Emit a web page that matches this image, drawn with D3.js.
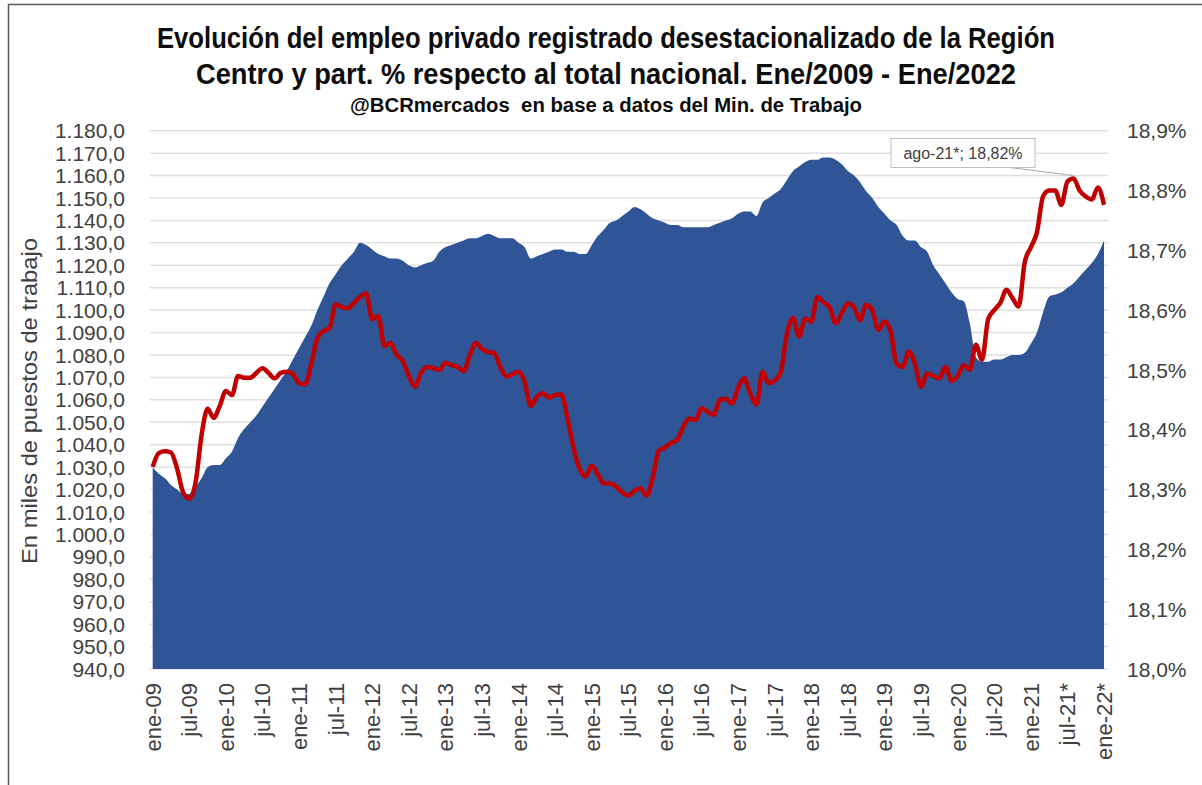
<!DOCTYPE html>
<html>
<head>
<meta charset="utf-8">
<script src="https://cdn.jsdelivr.net/npm/d3@7"></script>
<style>
  body { margin: 0; background: #fff; }
  svg { display: block; }
  .tick-l, .tick-r, .tick-x { font-family: "Liberation Sans", Arial, sans-serif; font-size: 21px; fill: #404040; }
  .title { font-family: "Liberation Sans Narrow", "Arial Narrow", "Liberation Sans", sans-serif; font-weight: bold; fill: #0d0d0d; }
</style>
</head>
<body>
<div id="chart"></div>
<script>
// Empleo privado registrado desestacionalizado, Región Centro (miles de puestos), ene-09 .. ene-22
const empleo = [
  1030, 1027, 1025, 1022, 1020, 1018, 1018, 1021, 1025, 1030, 1031, 1031,
  1034, 1037, 1043, 1047, 1050, 1053, 1057, 1061, 1065, 1069, 1073, 1078,
  1083, 1088, 1093, 1100, 1106, 1112, 1116, 1120, 1123, 1126, 1130, 1129,
  1127, 1125, 1124, 1123, 1123, 1122, 1120, 1119, 1120, 1121, 1122, 1126,
  1128, 1129, 1130, 1131, 1132, 1132, 1133, 1134, 1133, 1132, 1132, 1132,
  1130, 1128, 1123, 1124, 1125, 1126, 1127, 1127, 1126, 1126, 1125, 1125,
  1129, 1133, 1136, 1139, 1140, 1142, 1144, 1146, 1145, 1143, 1141, 1140,
  1139, 1138, 1138, 1137, 1137, 1137, 1137, 1137, 1138, 1139, 1140, 1141,
  1143, 1144, 1144, 1142, 1148, 1150, 1152, 1154, 1158, 1162, 1164, 1166,
  1167, 1167, 1168, 1168, 1167, 1165, 1162, 1160, 1157, 1153, 1150, 1146,
  1143, 1140, 1138, 1133, 1131, 1131, 1128, 1126, 1120, 1116, 1112, 1108,
  1105, 1104, 1094, 1079, 1077, 1077, 1078, 1078, 1079, 1080, 1080, 1081,
  1085, 1090, 1099, 1106, 1107, 1108, 1110, 1112, 1115, 1118, 1121, 1125,
  1131
];

// Participación % respecto al total nacional
const participacion = [
  18.338, 18.361, 18.364, 18.362, 18.335, 18.295, 18.285, 18.310, 18.390, 18.435, 18.420, 18.440,
  18.465, 18.458, 18.490, 18.487, 18.487, 18.495, 18.503, 18.495, 18.486, 18.495, 18.497, 18.493,
  18.478, 18.476, 18.510, 18.553, 18.565, 18.570, 18.610, 18.605, 18.603, 18.612, 18.622, 18.628,
  18.585, 18.590, 18.540, 18.545, 18.525, 18.515, 18.490, 18.472, 18.495, 18.505, 18.503, 18.500,
  18.512, 18.508, 18.505, 18.498, 18.525, 18.545, 18.535, 18.530, 18.528, 18.505, 18.489, 18.493,
  18.497, 18.480, 18.440, 18.455, 18.461, 18.454, 18.458, 18.459, 18.420, 18.370, 18.335, 18.322,
  18.340, 18.325, 18.310, 18.310, 18.305, 18.295, 18.290, 18.298, 18.302, 18.290, 18.320, 18.365,
  18.370, 18.378, 18.383, 18.405, 18.419, 18.416, 18.436, 18.430, 18.425, 18.450, 18.452, 18.444,
  18.470, 18.486, 18.460, 18.442, 18.497, 18.478, 18.482, 18.497, 18.560, 18.587, 18.556, 18.586,
  18.581, 18.622, 18.613, 18.605, 18.578, 18.595, 18.611, 18.605, 18.583, 18.609, 18.600, 18.567,
  18.581, 18.565, 18.510, 18.505, 18.531, 18.510, 18.472, 18.494, 18.490, 18.486, 18.505, 18.482,
  18.490, 18.508, 18.500, 18.542, 18.517, 18.585, 18.600, 18.612, 18.634, 18.620, 18.606, 18.680,
  18.705, 18.730, 18.790, 18.800, 18.800, 18.776, 18.815, 18.820, 18.800, 18.790, 18.785, 18.805,
  18.776
];

const tickLabels = [
  'ene-09', 'jul-09', 'ene-10', 'jul-10', 'ene-11', 'jul-11', 'ene-12', 'jul-12', 'ene-13',
  'jul-13', 'ene-14', 'jul-14', 'ene-15', 'jul-15', 'ene-16', 'jul-16', 'ene-17', 'jul-17',
  'ene-18', 'jul-18', 'ene-19', 'jul-19', 'ene-20', 'jul-20', 'ene-21', 'jul-21*', 'ene-22*'
];

const titleLines = [
  'Evolución del empleo privado registrado desestacionalizado de la Región',
  'Centro y part. % respecto al total nacional. Ene/2009 - Ene/2022'
];
const subtitle = '@BCRmercados  en base a datos del Min. de Trabajo';
const yTitle = 'En miles de puestos de trabajo';
const callout = { index: 151, label: 'ago-21*; 18,82%' };

const width = 1202;
const height = 785;
const plot = { left: 152.7, right: 1104, top: 130.7, bottom: 669 };

const locale = d3.formatLocale({ decimal: ',', thousands: '.', grouping: [3], currency: ['$', ''] });
const fmtLeft = locale.format(',.1f');
const fmtRight = locale.format('.1f');

const svg = d3.select('#chart')
  .append('svg')
  .attr('width', width)
  .attr('height', height);

svg.append('rect')
  .attr('width', width).attr('height', height)
  .attr('fill', '#fff');

// outer frame
svg.append('rect')
  .attr('x', 8.5).attr('y', 4.5)
  .attr('width', width).attr('height', height)
  .attr('fill', 'none')
  .attr('stroke', '#595959')
  .attr('stroke-width', 1.5);

const x = d3.scaleLinear()
  .domain([0, empleo.length - 1])
  .range([plot.left, plot.right]);

const yLeft = d3.scaleLinear()
  .domain([940, 1180])
  .range([plot.bottom, plot.top]);

const yRight = d3.scaleLinear()
  .domain([18.0, 18.9])
  .range([plot.bottom, plot.top]);

// gridlines
svg.append('g')
  .selectAll('line')
  .data(d3.range(940, 1181, 10))
  .enter().append('line')
  .attr('x1', plot.left - 3)
  .attr('x2', plot.right + 4)
  .attr('y1', d => yLeft(d))
  .attr('y2', d => yLeft(d))
  .attr('stroke', '#e0e0e0')
  .attr('stroke-width', 1.5);

// area
const area = d3.area()
  .x((d, i) => x(i))
  .y0(plot.bottom)
  .y1(d => yLeft(d))
  .curve(d3.curveMonotoneX);

svg.append('path')
  .datum(empleo)
  .attr('d', area)
  .attr('fill', '#2f5597');

// line
const line = d3.line()
  .x((d, i) => x(i))
  .y(d => yRight(d))
  .curve(d3.curveMonotoneX);

svg.append('path')
  .datum(participacion)
  .attr('d', line)
  .attr('fill', 'none')
  .attr('stroke', '#c00000')
  .attr('stroke-width', 4.5)
  .attr('stroke-linejoin', 'round');

// left axis labels
svg.append('g')
  .selectAll('text')
  .data(d3.range(940, 1181, 10))
  .enter().append('text')
  .attr('class', 'tick-l')
  .attr('x', 125)
  .attr('y', d => yLeft(d))
  .attr('dy', '0.36em')
  .attr('text-anchor', 'end')
  .text(d => fmtLeft(d));

// right axis labels
svg.append('g')
  .selectAll('text')
  .data(d3.range(0, 10).map(k => 18 + k / 10))
  .enter().append('text')
  .attr('class', 'tick-r')
  .attr('x', 1127)
  .attr('y', d => yRight(d))
  .attr('dy', '0.36em')
  .text(d => fmtRight(d) + '%');

// x labels
svg.append('g')
  .selectAll('text')
  .data(tickLabels)
  .enter().append('text')
  .attr('class', 'tick-x')
  .attr('transform', (d, i) => `translate(${x(i * 6)},${plot.bottom + 14}) rotate(-90)`)
  .attr('dy', '0.36em')
  .attr('text-anchor', 'end')
  .style('font-size', '22px')
  .text(d => d);

// y axis title
svg.append('text')
  .attr('class', 'tick-l')
  .attr('transform', 'translate(29,401) rotate(-90)')
  .attr('text-anchor', 'middle')
  .attr('dy', '0.36em')
  .style('font-size', '22px')
  .attr('textLength', 326)
  .attr('lengthAdjust', 'spacingAndGlyphs')
  .text(yTitle);

// titles
const titleWidths = [898, 820];
svg.append('g')
  .selectAll('text')
  .data(titleLines)
  .enter().append('text')
  .attr('class', 'title')
  .attr('x', 606)
  .attr('y', (d, i) => 48 + i * 36)
  .attr('text-anchor', 'middle')
  .attr('textLength', (d, i) => titleWidths[i])
  .attr('lengthAdjust', 'spacingAndGlyphs')
  .style('font-size', '29px')
  .text(d => d);

svg.append('text')
  .attr('class', 'title')
  .attr('x', 606)
  .attr('y', 112)
  .attr('text-anchor', 'middle')
  .attr('textLength', 512)
  .attr('lengthAdjust', 'spacingAndGlyphs')
  .style('font-size', '20px')
  .attr('xml:space', 'preserve')
  .text(subtitle);

// callout for ago-21*
const cx = x(callout.index);
const cy = yRight(participacion[callout.index]);
svg.append('line')
  .attr('x1', 1010).attr('y1', 167.5)
  .attr('x2', cx).attr('y2', cy - 3)
  .attr('stroke', '#a6a6a6')
  .attr('stroke-width', 1);

svg.append('rect')
  .attr('x', 891).attr('y', 138.5)
  .attr('width', 144).attr('height', 29)
  .attr('fill', '#fff')
  .attr('stroke', '#bfbfbf')
  .attr('stroke-width', 1);

svg.append('text')
  .attr('x', 963).attr('y', 153)
  .attr('dy', '0.36em')
  .attr('text-anchor', 'middle')
  .style('font-family', '"Liberation Sans", Arial, sans-serif')
  .style('font-size', '16px')
  .style('fill', '#404040')
  .text(callout.label);
</script>
</body>
</html>
